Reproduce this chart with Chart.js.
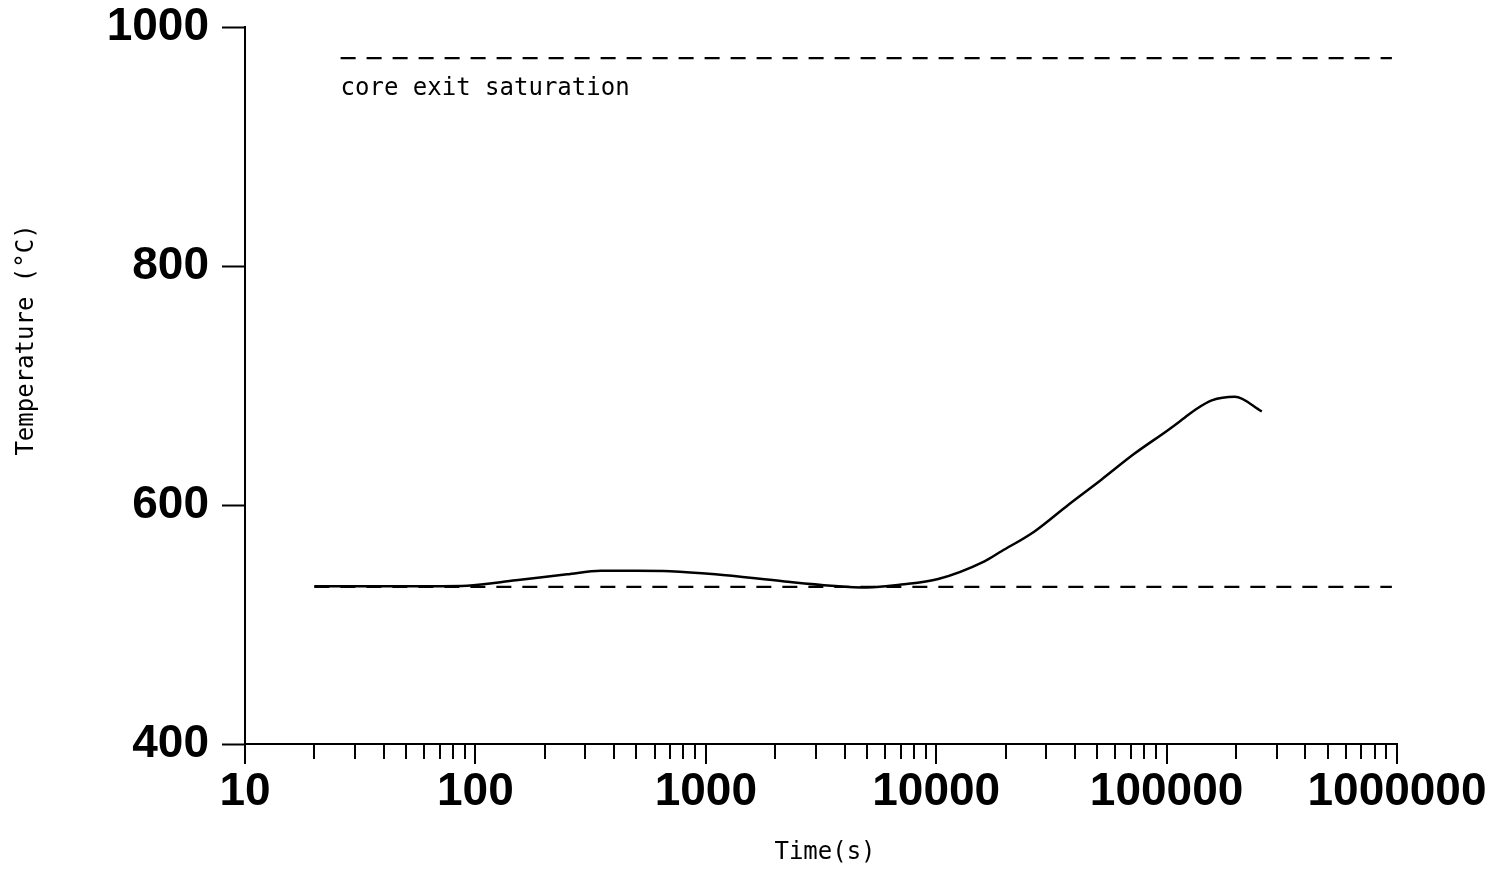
<!DOCTYPE html>
<html>
<head>
<meta charset="utf-8">
<script src="https://cdn.jsdelivr.net/npm/chart.js@4"></script>
<style>
html,body{margin:0;padding:0;background:#fff;}
#wrap{width:1506px;height:872px;position:relative;}
</style>
</head>
<body>
<div id="wrap"><canvas id="c"></canvas></div>
<script>
// ---- data ----
const times = [20, 50, 92, 150, 250, 350, 500, 700, 1100, 2200, 3500, 5000, 7050, 10200, 16200, 19200, 26700, 37500, 52100, 72600, 102000, 119700, 132800, 157000, 197700, 259000];
const temps = [532, 532, 532.5, 537, 542, 545, 545, 544.6, 542, 536, 532.5, 531, 533.4, 538.1, 552.9, 561.3, 577.9, 600.3, 621.2, 643, 663, 673, 679.5, 687.5, 690.5, 678.3];

const satTimes = [26, 950000];
const satTemps = [974, 974];

const baseTimes = [20, 950000];
const baseTemps = [531.5, 531.5];

const yTickValues = [400, 600, 800, 1000];
const xLabelValues = [10, 100, 1000, 10000, 100000, 1000000];
const xMinorMultipliers = [1, 2, 3, 4, 5, 6, 7, 8, 9];

const annoText = 'core exit saturation';
const annoTime = 26;
const annoTemp = 948;

const xTitle = 'Time(s)';
const yTitle = 'Temperature (\u00B0C)';

// ---- helpers ----
const toPts = (xs, ys) => xs.map((x, i) => ({x: x, y: ys[i]}));
const isLabelled = v => xLabelValues.some(p => Math.abs(Math.log10(v) - Math.log10(p)) < 1e-6);
const xTickValues = [];
xLabelValues.slice(0, -1).forEach(d => xMinorMultipliers.forEach(m => xTickValues.push(d * m)));
xTickValues.push(xLabelValues[xLabelValues.length - 1]);

const INK = '#000';
const BIG = {family: '"Liberation Sans", Arial, sans-serif', size: 46, weight: 'bold'};
const MONO = '24px "DejaVu Sans Mono", monospace';

const extras = {
  id: 'extras',
  afterDraw(chart) {
    const ctx = chart.ctx;
    const xs = chart.scales.x, ys = chart.scales.y;
    ctx.save();
    ctx.strokeStyle = INK;
    ctx.lineWidth = 2;
    xs.ticks.forEach(t => {
      const px = Math.round(xs.getPixelForValue(t.value));
      const len = isLabelled(t.value) ? 20 : 15;
      ctx.beginPath();
      ctx.moveTo(px, xs.top);
      ctx.lineTo(px, xs.top + len);
      ctx.stroke();
    });
    ctx.fillStyle = INK;
    ctx.font = MONO;
    ctx.textAlign = 'left';
    ctx.textBaseline = 'middle';
    ctx.fillText(annoText, xs.getPixelForValue(annoTime), ys.getPixelForValue(annoTemp));
    ctx.textAlign = 'center';
    ctx.fillText(xTitle, (chart.chartArea.left + chart.chartArea.right) / 2 + 4, 853);
    ctx.translate(27, 340);
    ctx.rotate(-Math.PI / 2);
    ctx.fillText(yTitle, 0, 0);
    ctx.restore();
  }
};

new Chart(document.getElementById('c'), {
  type: 'line',
  data: {
    datasets: [
      {
        data: toPts(times, temps),
        borderColor: INK, borderWidth: 2.5, pointRadius: 0,
        cubicInterpolationMode: 'monotone', fill: false
      },
      {
        data: toPts(satTimes, satTemps),
        borderColor: INK, borderWidth: 2.2, pointRadius: 0,
        borderDash: [15, 11], fill: false
      },
      {
        data: toPts(baseTimes, baseTemps),
        borderColor: INK, borderWidth: 2.2, pointRadius: 0,
        borderDash: [15, 11], fill: false
      }
    ]
  },
  options: {
    responsive: true,
    maintainAspectRatio: false,
    animation: false,
    devicePixelRatio: 1,
    layout: {padding: {top: 27, right: 109, bottom: 0, left: 0}},
    plugins: {legend: {display: false}, tooltip: {enabled: false}},
    scales: {
      x: {
        type: 'logarithmic',
        position: 'bottom',
        min: 10, max: 1000000,
        afterBuildTicks: s => { s.ticks = xTickValues.map(v => ({value: v})); },
        grid: {display: true, drawOnChartArea: false, drawTicks: false},
        border: {display: true, color: INK, width: 2},
        ticks: {
          autoSkip: false, maxRotation: 0, minRotation: 0,
          padding: 21, color: INK, font: BIG,
          callback: v => isLabelled(v) ? String(Math.round(v)) : ''
        },
        afterFit: s => { s.height = 128; s.paddingLeft = 0; s.paddingRight = 0; }
      },
      y: {
        type: 'linear',
        min: 400, max: 1000,
        afterBuildTicks: s => { s.ticks = yTickValues.map(v => ({value: v})); },
        grid: {display: true, drawOnChartArea: false, tickLength: 23, tickColor: INK, tickWidth: 2},
        border: {display: true, color: INK, width: 2},
        ticks: {padding: 13, color: INK, font: BIG, callback: v => String(v)},
        afterFit: s => { s.width = 245; s.paddingTop = 0; s.paddingBottom = 0; }
      }
    }
  },
  plugins: [extras]
});
</script>
</body>
</html>
